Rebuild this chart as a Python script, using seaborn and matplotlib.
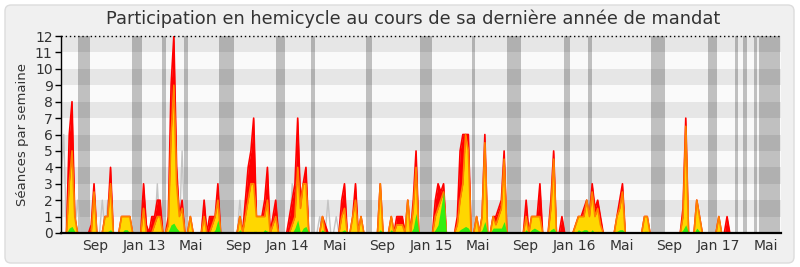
import numpy as np
import pandas as pd
import matplotlib
matplotlib.use("Agg")
import matplotlib.pyplot as plt
import matplotlib.transforms as mtransforms
from matplotlib.patches import FancyBboxPatch
import seaborn as sns

# ---------------- data (weekly values, week 0 = 2012-06-18) ----------------
N_WEEKS = 262
START = "2012-06-18"

# red: présences
presence = {3: 6, 4: 8, 5: 1, 11: 0.5, 12: 3, 16: 1, 17: 1, 18: 4, 22: 1, 23: 1, 24: 1, 25: 1,
            30: 3, 31: 0.5, 33: 1, 34: 1, 35: 2, 36: 2, 39: 1, 40: 9, 41: 12, 42: 4, 43: 1, 44: 2,
            47: 1, 52: 2, 54: 1, 55: 1, 56: 1, 57: 3, 65: 1, 67: 2, 68: 4, 69: 5, 70: 7, 71: 1,
            72: 1, 73: 1, 74: 2, 75: 4, 77: 1, 78: 2, 83: 1, 84: 2, 85: 3, 86: 7, 87: 2, 88: 3,
            89: 4, 95: 1, 96: 0.5, 102: 2, 103: 3, 106: 1, 107: 3, 109: 1, 116: 3, 120: 1, 122: 1,
            123: 1, 124: 1, 126: 2, 128: 2, 129: 5, 136: 2, 137: 3, 138: 2.5, 139: 3, 144: 1,
            145: 5, 146: 6, 147: 6, 148: 6, 151: 1, 153: 1, 154: 6, 157: 1, 158: 1, 159: 1.5,
            160: 2, 161: 5, 169: 2, 171: 1, 172: 1, 173: 1, 174: 3, 178: 2, 179: 5, 182: 1,
            187: 0.5, 188: 1, 189: 1, 190: 1.5, 191: 2, 192: 1, 193: 3, 194: 1.5, 195: 2, 196: 1,
            202: 1, 203: 2, 204: 3, 212: 1, 213: 1, 226: 1.5, 227: 7, 231: 2, 232: 1, 239: 1,
            242: 1}

# yellow / orange: participations
participation = {3: 3, 4: 5, 5: 1, 12: 2.5, 16: 1, 17: 1, 18: 3, 22: 1, 23: 1, 24: 1, 25: 1,
                 30: 1.5, 34: 0.5, 35: 1, 36: 1, 39: 0.5, 40: 6, 41: 9, 42: 3, 43: 1, 44: 1.5,
                 47: 1, 52: 1, 55: 0.5, 56: 1, 57: 2, 65: 1, 67: 1, 68: 2, 69: 3, 70: 3, 71: 1,
                 72: 1, 73: 1, 74: 1, 75: 2, 77: 0.5, 78: 1, 84: 0.5, 85: 1, 86: 4, 87: 1.5, 88: 3,
                 89: 3, 95: 1, 102: 1, 103: 1.5, 106: 1, 107: 2, 109: 1, 116: 3, 120: 1, 122: 0.5,
                 123: 0.5, 124: 0.5, 126: 2, 128: 1.5, 129: 4, 136: 1, 137: 1.5, 138: 2, 139: 2.5,
                 144: 0.5, 145: 2, 146: 3, 147: 6, 148: 5, 151: 1, 153: 1, 154: 5.5, 157: 1,
                 158: 0.5, 159: 1, 160: 1.5, 161: 4.5, 169: 1, 171: 1, 172: 1, 173: 1, 174: 1,
                 178: 1.5, 179: 4.5, 187: 0.5, 188: 1, 189: 1, 190: 1, 191: 2, 192: 1, 193: 2.5,
                 194: 1, 195: 1.5, 196: 0.5, 202: 1, 203: 1.5, 204: 2.5, 212: 1, 213: 1, 226: 1,
                 227: 6.5, 231: 2, 232: 1, 239: 1}

# green
interventions = {3: 0.3, 4: 0.4, 5: 0.1, 12: 0.1, 17: 0.1, 18: 0.2, 23: 0.2, 24: 0.2, 30: 0.1,
                 36: 0.1, 39: 0.1, 40: 0.5, 41: 0.6, 42: 0.3, 43: 0.1, 44: 0.1, 47: 0.1, 56: 0.2,
                 57: 0.8, 65: 0.2, 70: 0.1, 71: 0.1, 74: 0.2, 75: 0.1, 78: 0.1, 85: 0.3, 86: 0.8,
                 88: 0.3, 89: 0.4, 95: 0.2, 102: 0.1, 103: 0.2, 107: 0.1, 109: 0.1, 116: 0.2,
                 120: 0.2, 126: 0.1, 128: 0.3, 129: 1.2, 136: 0.2, 137: 0.5, 138: 1.5, 139: 2.5,
                 145: 0.2, 146: 0.3, 147: 0.4, 148: 0.3, 151: 0.1, 153: 0.2, 154: 0.7, 157: 0.3,
                 158: 0.3, 159: 0.3, 160: 0.3, 161: 0.7, 169: 0.2, 171: 0.2, 172: 0.3, 173: 0.2,
                 174: 0.1, 178: 0.2, 179: 0.3, 188: 0.2, 189: 0.1, 190: 0.2, 191: 0.2, 193: 0.2,
                 195: 0.1, 202: 0.1, 203: 0.2, 204: 0.2, 212: 0.1, 213: 0.1, 226: 0.2, 227: 0.5,
                 231: 0.3, 232: 0.1, 239: 0.1}

# grey line
mediane = {0: 3, 1: 6, 6: 2, 15: 2, 17: 2, 35: 3, 44: 5, 52: 2, 65: 2, 84: 3, 88: 3, 94: 1,
           97: 2, 100: 1}

# parliamentary holidays (in weeks since START)
vacances = [(6.2, 10.5), (25.8, 29.4), (36.7, 38.2), (44.7, 46.1), (57.4, 62.9), (78.1, 81.4),
            (90.8, 92.3), (110.8, 113.0), (130.5, 134.8), (149.3, 150.4), (162.1, 167.2),
            (182.8, 185.0), (191.5, 192.9), (214.4, 219.5), (235.1, 238.4), (244.9, 246.0),
            (247.8, 249.3), (251.8, 252.9), (253.6, 261.3)]

tick_labels = ["Sep", "Jan 13", "Mai", "Sep", "Jan 14", "Mai", "Sep", "Jan 15", "Mai",
               "Sep", "Jan 16", "Mai", "Sep", "Jan 17", "Mai"]
tick_dates = ["2012-09-12", "2013-01-15", "2013-05-15", "2013-09-12", "2014-01-15",
              "2014-05-15", "2014-09-12", "2015-01-15", "2015-05-15", "2015-09-12",
              "2016-01-15", "2016-05-15", "2016-09-12", "2017-01-15", "2017-05-15"]

TITLE = "Participation en hemicycle au cours de sa dernière année de mandat"
YLABEL = "Séances par semaine"


def expand(d):
    arr = np.zeros(N_WEEKS)
    for k, v in d.items():
        arr[k] = v
    return arr


df = pd.DataFrame({
    "semaine": np.arange(N_WEEKS),
    "presence": expand(presence),
    "participation": expand(participation),
    "interventions": expand(interventions),
    "mediane": expand(mediane),
})

start = pd.Timestamp(START)
tick_pos = [(pd.Timestamp(d) - start).days / 7.0 for d in tick_dates]

# ---------------- drawing ----------------
sns.set_theme(style="white")
plt.rcParams["font.family"] = ["DejaVu Sans"]

W, H = 800, 267
fig = plt.figure(figsize=(W / 100, H / 100), dpi=100)
fig.patch.set_facecolor("white")
frame = FancyBboxPatch((5, 4), 789, 258, boxstyle="round,pad=0,rounding_size=6",
                       transform=mtransforms.IdentityTransform(),
                       facecolor="#f0f0f0", edgecolor="#dcdcdc", linewidth=1.0, zorder=-10)
fig.patches.append(frame)

ax = fig.add_axes([61 / W, 34 / H, 720 / W, 197 / H])
ax.set_zorder(1)
ax.set_facecolor("#fafafa")
for k in range(1, 12, 2):
    ax.axhspan(k, k + 1, color="#e6e6e6", lw=0, zorder=0)
for a, b in vacances:
    ax.axvspan(a, b, color="black", alpha=0.23, lw=0, zorder=1)

x = df["semaine"].values
sns.lineplot(data=df, x="semaine", y="mediane", color="#c4c4c4", lw=1.0, ax=ax, zorder=2)
ax.fill_between(x, df["presence"], color="#ff0000", lw=0, zorder=3)
sns.lineplot(data=df, x="semaine", y="presence", color="#ff0000", lw=1.2, ax=ax, zorder=3.1)
ax.fill_between(x, df["participation"], color="#ffd700", lw=0, zorder=4)
sns.lineplot(data=df, x="semaine", y="participation", color="#ff8000", lw=1.2, ax=ax, zorder=4.1)
ax.fill_between(x, df["interventions"], color="#33ee11", lw=0, zorder=5)

ax.set_xlim(0, 261.6)
ax.set_ylim(0, 12)
ax.axhline(12, color="black", ls=(0, (1, 2)), lw=1.0, zorder=6, clip_on=False)

for s in ["top", "right"]:
    ax.spines[s].set_visible(False)
ax.spines["left"].set_color("black")
ax.spines["left"].set_linewidth(1.0)
ax.spines["bottom"].set_color("black")
ax.spines["bottom"].set_linewidth(1.6)
ax.spines["left"].set_zorder(7)
ax.spines["bottom"].set_zorder(7)

ax.set_yticks(range(0, 13))
ax.set_yticklabels([str(v) for v in range(0, 13)])
ax.tick_params(axis="y", direction="out", length=4, width=1, color="black",
               labelsize=10, pad=2, labelcolor="#333333", left=True)
ax.set_xticks(tick_pos)
ax.set_xticklabels(tick_labels)
ax.tick_params(axis="x", length=0, labelsize=10, pad=4, labelcolor="#333333")
ax.set_xlabel("")
ax.set_ylabel(YLABEL, fontsize=9.5, color="#333333", labelpad=4)
ax.grid(False)

fig.text(413 / W, 1 - 19 / H, TITLE, ha="center", va="center", fontsize=12.8, color="#333333")

fig.savefig("out.png", dpi=100)
